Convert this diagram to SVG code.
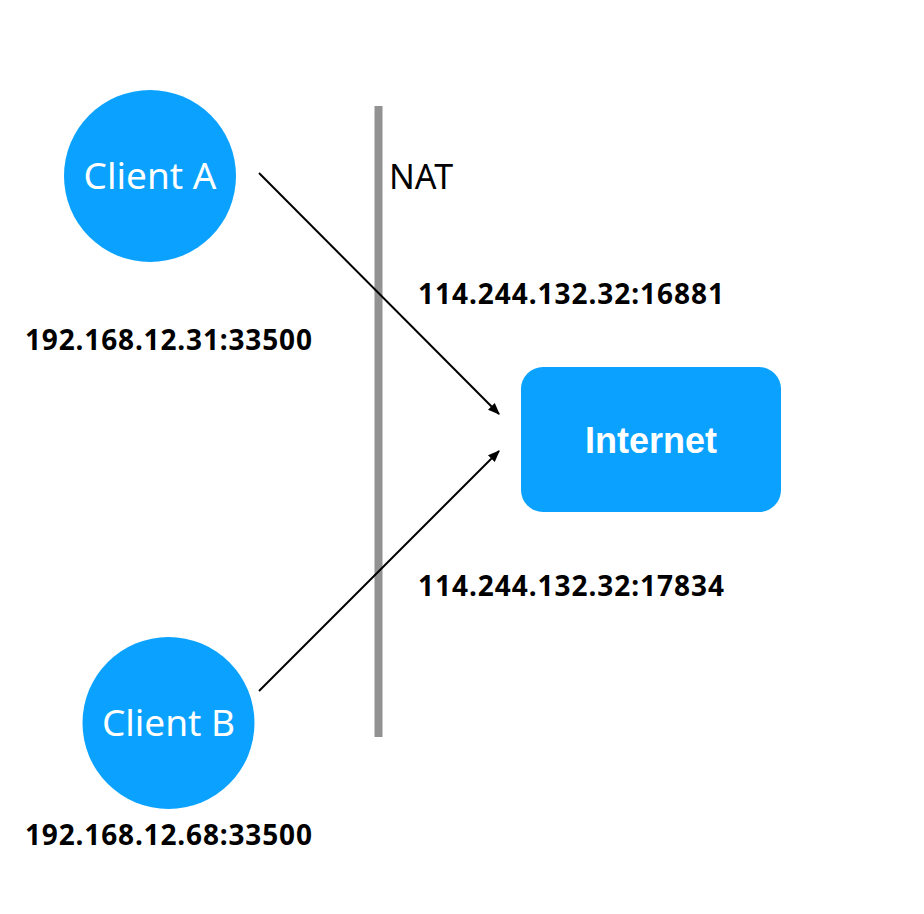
<svg xmlns="http://www.w3.org/2000/svg" width="924" height="914" viewBox="0 0 924 914">
<style>
.node{fill:#0AA2FE}
.nl{font-family:"Noto Sans","Open Sans",sans-serif;font-size:37px;fill:#fff;text-anchor:middle}
.addr{font-family:"Noto Sans","Open Sans",sans-serif;font-size:28px;font-weight:bold;fill:#000}
.conn{stroke:#000;stroke-width:2;fill:none;marker-end:url(#ah)}
</style>
<defs>
<marker id="ah" viewBox="0 0 10 10" refX="9" refY="5" markerWidth="6" markerHeight="6" orient="auto" markerUnits="strokeWidth">
<path d="M0,1 L10,5 L0,9 z" fill="#000"/>
</marker>
</defs>
<rect width="924" height="914" fill="#fff"/>
<g id="nat">
<rect x="374.5" y="106" width="8" height="631" fill="#929292"/>
<text x="389" y="189" font-family="Noto Sans, Open Sans, sans-serif" font-size="34" fill="#000">NAT</text>
</g>
<g id="clientA">
<circle class="node" cx="150" cy="176" r="86"/>
<text class="nl" x="150" y="189">Client A</text>
</g>
<g id="clientB">
<circle class="node" cx="168.5" cy="723" r="86"/>
<text class="nl" x="168.5" y="736">Client B</text>
</g>
<g id="internet">
<rect class="node" x="521" y="367" width="260" height="145" rx="22"/>
<text x="651" y="453" font-family="Liberation Sans, Arial, sans-serif" font-size="36" font-weight="bold" fill="#fff" text-anchor="middle">Internet</text>
</g>
<g id="labels">
<text class="addr" x="25" y="350" textLength="287" lengthAdjust="spacing">192.168.12.31:33500</text>
<text class="addr" x="25" y="845" textLength="287" lengthAdjust="spacing">192.168.12.68:33500</text>
<text class="addr" x="418" y="304" textLength="306" lengthAdjust="spacing">114.244.132.32:16881</text>
<text class="addr" x="418" y="596" textLength="306" lengthAdjust="spacing">114.244.132.32:17834</text>
</g>
<g id="connectors">
<line class="conn" x1="259" y1="173" x2="499" y2="414"/>
<line class="conn" x1="259" y1="691" x2="499" y2="451"/>
</g>
</svg>
